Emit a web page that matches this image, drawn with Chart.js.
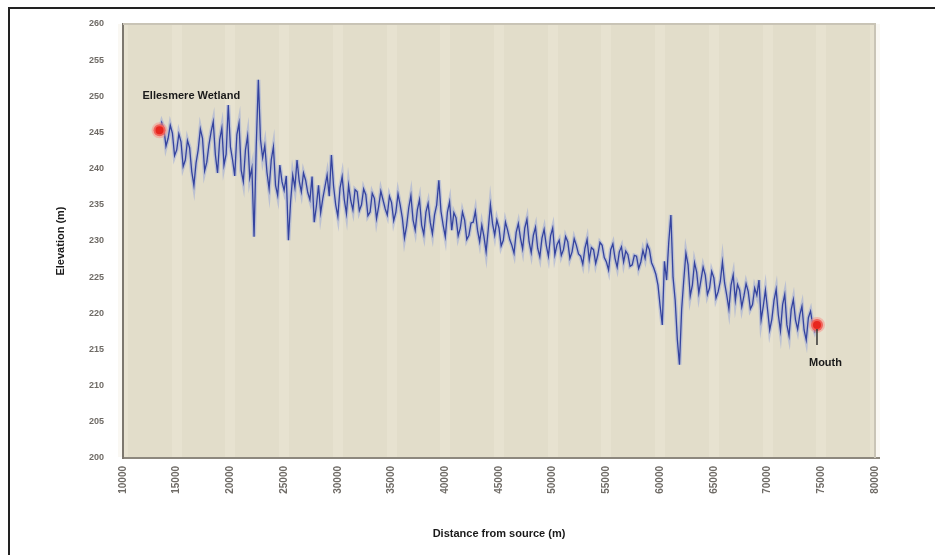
<!DOCTYPE html>
<html>
<head>
<meta charset="utf-8">
<title>Longitudinal profile</title>
<script src="https://cdn.jsdelivr.net/npm/chart.js@4.4.1/dist/chart.umd.min.js"></script>
<style>
  html, body { margin: 0; padding: 0; background: #fff; }
  #wrap { position: relative; width: 935px; height: 555px; overflow: hidden; }
  #frame { position: absolute; left: 8px; top: 7px; right: -4px; bottom: -4px;
           border-top: 2px solid #222; border-left: 2px solid #222; }
  canvas { position: absolute; left: 0; top: 0; }
</style>
</head>
<body>
<div id="wrap">
  <div id="frame"></div>
  <canvas id="profile" width="935" height="555"></canvas>
</div>
<script>
// Surveyed bed elevation along the channel, one reading every 200 m.
const distances = [
  13400, 13600, 13800, 14000, 14200, 14400, 14600, 14800, 15000, 15200,
  15400, 15600, 15800, 16000, 16200, 16400, 16600, 16800, 17000, 17200,
  17400, 17600, 17800, 18000, 18200, 18400, 18600, 18800, 19000, 19200,
  19400, 19600, 19800, 20000, 20200, 20400, 20600, 20800, 21000, 21200,
  21400, 21600, 21800, 22000, 22200, 22400, 22600, 22800, 23000, 23200,
  23400, 23600, 23800, 24000, 24200, 24400, 24600, 24800, 25000, 25200,
  25400, 25600, 25800, 26000, 26200, 26400, 26600, 26800, 27000, 27200,
  27400, 27600, 27800, 28000, 28200, 28400, 28600, 28800, 29000, 29200,
  29400, 29600, 29800, 30000, 30200, 30400, 30600, 30800, 31000, 31200,
  31400, 31600, 31800, 32000, 32200, 32400, 32600, 32800, 33000, 33200,
  33400, 33600, 33800, 34000, 34200, 34400, 34600, 34800, 35000, 35200,
  35400, 35600, 35800, 36000, 36200, 36400, 36600, 36800, 37000, 37200,
  37400, 37600, 37800, 38000, 38200, 38400, 38600, 38800, 39000, 39200,
  39400, 39600, 39800, 40000, 40200, 40400, 40600, 40800, 41000, 41200,
  41400, 41600, 41800, 42000, 42200, 42400, 42600, 42800, 43000, 43200,
  43400, 43600, 43800, 44000, 44200, 44400, 44600, 44800, 45000, 45200,
  45400, 45600, 45800, 46000, 46200, 46400, 46600, 46800, 47000, 47200,
  47400, 47600, 47800, 48000, 48200, 48400, 48600, 48800, 49000, 49200,
  49400, 49600, 49800, 50000, 50200, 50400, 50600, 50800, 51000, 51200,
  51400, 51600, 51800, 52000, 52200, 52400, 52600, 52800, 53000, 53200,
  53400, 53600, 53800, 54000, 54200, 54400, 54600, 54800, 55000, 55200,
  55400, 55600, 55800, 56000, 56200, 56400, 56600, 56800, 57000, 57200,
  57400, 57600, 57800, 58000, 58200, 58400, 58600, 58800, 59000, 59200,
  59400, 59600, 59800, 60000, 60200, 60400, 60600, 60800, 61000, 61200,
  61400, 61600, 61800, 62000, 62200, 62400, 62600, 62800, 63000, 63200,
  63400, 63600, 63800, 64000, 64200, 64400, 64600, 64800, 65000, 65200,
  65400, 65600, 65800, 66000, 66200, 66400, 66600, 66800, 67000, 67200,
  67400, 67600, 67800, 68000, 68200, 68400, 68600, 68800, 69000, 69200,
  69400, 69600, 69800, 70000, 70200, 70400, 70600, 70800, 71000, 71200,
  71400, 71600, 71800, 72000, 72200, 72400, 72600, 72800, 73000, 73200,
  73400, 73600, 73800, 74000, 74200, 74400, 74600
];
const elevations = [
  245.3, 246.4, 245.6, 243.1, 244.2, 246.0, 244.9, 241.8, 242.6, 244.8,
  243.7, 240.3, 241.2, 243.9, 242.9, 239.6, 237.7, 240.8, 242.6, 245.5,
  244.2, 239.7, 240.9, 243.3, 245.1, 246.5, 241.9, 239.4, 244.0, 245.6,
  240.5, 242.0, 248.8, 243.0, 241.2, 239.0, 244.7, 246.3, 239.8, 238.2,
  242.6, 244.5, 238.7, 240.1, 230.6, 243.0, 252.3, 244.0, 241.5, 243.2,
  239.5, 237.2, 241.2, 243.0, 237.7, 236.3, 240.5, 238.2, 237.0, 239.0,
  230.1, 235.4, 239.1, 237.4, 241.2, 238.3, 236.8, 239.4, 238.4, 236.7,
  235.7, 238.9, 232.6, 234.8, 237.7, 233.9, 235.9, 237.5, 239.1, 236.2,
  241.9, 237.6, 235.0, 233.4, 237.3, 238.9, 235.7, 233.8, 237.7, 235.6,
  234.3, 237.1, 236.8, 234.2, 235.0, 237.2, 236.4, 233.5, 234.0, 236.6,
  235.9, 233.1, 234.8, 236.9, 235.7, 234.5, 233.6, 236.2, 235.3, 232.8,
  234.0, 236.5, 235.0, 233.2, 230.4, 232.1, 234.6, 236.3, 232.9, 231.5,
  234.3, 235.7, 232.2, 230.9, 234.0, 235.2, 232.6, 231.0, 233.6, 235.0,
  238.4, 234.1, 232.2, 230.6, 234.0, 235.4, 231.5, 233.9, 233.2, 230.7,
  231.8, 234.0, 232.9, 230.2, 230.8, 232.5, 232.6, 234.1, 231.5, 229.9,
  232.2, 230.6, 228.5, 231.6, 235.0, 232.4, 230.8, 232.9, 231.8, 229.3,
  230.1, 232.6, 231.5, 230.2, 229.4, 228.3, 231.2, 232.4, 230.4, 228.9,
  231.8, 233.0, 229.9, 228.4, 230.8, 231.9, 229.0, 227.8, 230.4, 231.6,
  229.4, 227.9, 230.7, 231.8, 228.1, 229.5, 230.1, 228.0, 228.8, 230.6,
  229.9, 227.6, 228.5, 230.3, 229.4, 228.2, 227.9, 226.8, 229.0, 230.2,
  227.4, 229.1, 228.8, 226.9, 228.1, 229.8, 229.4, 227.7, 227.1, 226.0,
  228.8, 229.6, 227.6, 226.4, 228.5, 229.2, 227.1, 228.6, 228.1, 226.5,
  226.7, 228.0, 227.9, 226.2, 227.1, 228.7, 227.6, 229.5, 228.8, 227.0,
  226.3, 225.4, 223.9, 221.0, 218.4, 227.2, 224.6, 229.8, 233.6, 225.0,
  221.8, 216.4, 212.9, 220.5, 224.6, 228.3, 226.7, 222.4, 223.9, 227.0,
  225.7, 222.8, 224.6, 226.4, 225.3, 222.6, 223.5, 225.8, 224.9, 222.1,
  223.0, 224.4, 227.1, 224.2, 222.5, 220.6, 223.9, 225.3, 221.8, 224.0,
  223.2, 220.9, 222.4, 224.1, 223.0, 220.6, 221.2, 223.5, 222.5, 224.6,
  219.1, 221.0, 223.2, 220.5, 217.7, 219.2, 221.8, 223.3, 219.8, 217.6,
  221.2, 222.6, 218.4, 216.9, 220.5, 221.9, 219.1, 217.8, 219.8, 221.0,
  217.7, 216.3, 219.4, 220.3, 218.4, 217.5, 218.4
];

// End points of the surveyed reach and their names.
const siteNames = ['Ellesmere Wetland', 'Mouth'];
const siteDistances = [13400, 74600];
const siteElevations = [245.3, 218.4];

// Axis ranges and tick spacing.
const xMin = 10000, xMax = 80000, xStep = 5000;
const yMin = 200, yMax = 260, yStep = 5;

const X_TITLE = 'Distance from source (m)';
const Y_TITLE = 'Elevation (m)';

const FONT = '"Liberation Sans", Arial, sans-serif';

const profilePts = distances.map((d, i) => ({ x: d, y: elevations[i] }));
const sitePts = siteDistances.map((d, i) => ({ x: d, y: siteElevations[i] }));

// Beige plot background, pale top/right edges and the two site labels.
const plotDecor = {
  id: 'plotDecor',
  beforeDraw(chart) {
    const { ctx, chartArea: a } = chart;
    ctx.save();
    ctx.fillStyle = '#e2ddca';
    ctx.fillRect(a.left, a.top, a.right - a.left, a.bottom - a.top);
    ctx.restore();
  },
  afterDraw(chart) {
    const { ctx, chartArea: a } = chart;
    ctx.save();
    ctx.strokeStyle = '#c9c4b6';
    ctx.lineWidth = 2;
    ctx.beginPath();
    ctx.moveTo(a.left, a.top);
    ctx.lineTo(a.right, a.top);
    ctx.lineTo(a.right, a.bottom);
    ctx.stroke();
    ctx.restore();
  },
  afterDatasetsDraw(chart) {
    const { ctx, scales } = chart;
    const sx = scales.x, sy = scales.y;
    ctx.save();
    ctx.font = 'bold 11px ' + FONT;
    ctx.fillStyle = '#1a1a1a';
    ctx.textBaseline = 'middle';
    ctx.textAlign = 'left';
    // source label sits up and to the left of its marker
    const p0x = sx.getPixelForValue(siteDistances[0]);
    const p0y = sy.getPixelForValue(siteElevations[0]);
    ctx.fillText(siteNames[0], p0x - 17, p0y - 34);
    // downstream label sits below, with a short leader
    const p1x = sx.getPixelForValue(siteDistances[1]);
    const p1y = sy.getPixelForValue(siteElevations[1]);
    ctx.strokeStyle = '#333';
    ctx.lineWidth = 1.5;
    ctx.beginPath();
    ctx.moveTo(p1x, p1y + 4);
    ctx.lineTo(p1x, p1y + 20);
    ctx.stroke();
    ctx.fillText(siteNames[1], p1x - 8, p1y + 38);
    ctx.restore();
  }
};

new Chart(document.getElementById('profile'), {
  type: 'line',
  data: {
    datasets: [
      { data: sitePts, showLine: false, pointRadius: 6, pointHoverRadius: 6,
        pointBackgroundColor: '#e8261e', pointBorderColor: 'rgba(245,150,140,0.55)',
        pointBorderWidth: 4, order: 0 },
      { data: profilePts, borderColor: '#34439f', borderWidth: 1.3,
        pointRadius: 0, tension: 0, order: 1 },
      { data: profilePts, borderColor: 'rgba(130,150,220,0.4)', borderWidth: 4,
        pointRadius: 0, tension: 0, order: 2 }
    ]
  },
  options: {
    responsive: false,
    animation: false,
    events: [],
    layout: { padding: { left: 0, top: 24, right: 60, bottom: 0 } },
    plugins: { legend: { display: false }, tooltip: { enabled: false } },
    scales: {
      x: {
        type: 'linear', min: xMin, max: xMax,
        afterFit: (s) => { s.height = 97; },
        ticks: {
          stepSize: xStep, autoSkip: false, minRotation: 90, maxRotation: 90,
          padding: 8, color: '#6f6b66',
          font: { family: FONT, size: 10, weight: 'bold' },
          callback: (v) => String(v)
        },
        grid: { display: true, drawTicks: false, color: 'rgba(240,236,222,0.35)', lineWidth: 10 },
        border: { display: true, color: '#8d887e', width: 2 },
        title: {
          display: true, text: X_TITLE, color: '#1a1a1a', padding: { top: 0, bottom: 14 },
          font: { family: FONT, size: 11, weight: 'bold' }
        }
      },
      y: {
        min: yMin, max: yMax,
        afterFit: (s) => { s.width = 123; },
        ticks: {
          stepSize: yStep, padding: 11, color: '#6f6b66',
          font: { family: FONT, size: 9, weight: 'bold' }
        },
        grid: { display: false },
        border: { display: true, color: '#7c776e', width: 2 },
        title: {
          display: true, text: Y_TITLE, color: '#1a1a1a', padding: { top: 54, bottom: 0 },
          font: { family: FONT, size: 11, weight: 'bold' }
        }
      }
    }
  },
  plugins: [plotDecor]
});
</script>
</body>
</html>
